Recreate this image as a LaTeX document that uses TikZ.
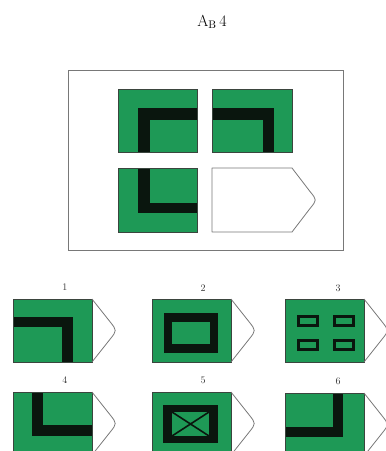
\documentclass[tikz,border=0pt]{standalone}
\usepackage{xcolor}
\definecolor{tilegreen}{RGB}{30,153,86}
\definecolor{barblack}{RGB}{10,22,14}
\definecolor{edgegray}{RGB}{120,120,120}
\tikzset{
  tile/.style={fill=tilegreen, draw=barblack!80, line width=0.5pt},
  bar/.style={fill=barblack, draw=none},
  outline/.style={draw=edgegray, line width=0.8pt, line join=round},
  frame/.style={draw=edgegray, line width=1pt},
  lbl/.style={font=\fontsize{10}{12}\selectfont, text=black!80}
}
% tip outline for an option tile whose top-left corner is (#1,#2)
\newcommand{\tipout}[2]{%
  \draw[outline] (#1+79,#2) -- (#1+97,#2+22.7) .. controls (#1+104,#2+31.5) .. (#1+97,#2+40.3) -- (#1+79,#2+63);}
\begin{document}
\begin{tikzpicture}[x=1pt,y=-1pt]
\useasboundingbox (0,0) rectangle (386,451);
\clip (0,0) rectangle (386,451);
% title
\node (title) at (212,22) {\fontsize{16}{19}\selectfont A$_{\mathrm{B}}$\,4};
% frame
\draw[frame] (68,70) rectangle (343,250);
% question tiles
\fill[tile] (118,89) rectangle (197,152);
\fill[bar] (138,108) rectangle (150,152);
\fill[bar] (138,108) rectangle (197,120);
\draw[barblack!80, line width=0.5pt] (118,89) rectangle (197,152);

\fill[tile] (212,89) rectangle (292,152);
\fill[bar] (212,108) rectangle (274,120);
\fill[bar] (263,108) rectangle (274,152);
\draw[barblack!80, line width=0.5pt] (212,89) rectangle (292,152);

\fill[tile] (118,168) rectangle (197,232);
\fill[bar] (138,168) rectangle (150,213);
\fill[bar] (138,203) rectangle (197,213);
\draw[barblack!80, line width=0.5pt] (118,168) rectangle (197,232);

\draw[outline] (212,168) -- (292,168) -- (310,191.5) .. controls (317,200) .. (310,208.5) -- (292,232) -- (212,232) -- cycle;

% option 1
\node[lbl] (l1) at (65,287) {1};
\fill[tile] (13,299) rectangle (92,362);
\fill[bar] (13,317) rectangle (73,327);
\fill[bar] (62,317) rectangle (73,362);
\draw[barblack!80, line width=0.5pt] (13,299) rectangle (92,362);
\tipout{13}{299}

% option 2
\node[lbl] (l2) at (203,288) {2};
\fill[tile] (152,299) rectangle (231,362);
\fill[bar] (164,313) rectangle (218,353);
\fill[tilegreen] (172,322) rectangle (210,344);
\draw[barblack!80, line width=0.5pt] (152,299) rectangle (231,362);
\tipout{152}{299}

% option 3
\node[lbl] (l3) at (338,288) {3};
\fill[tile] (285,299) rectangle (364,362);
\foreach \xx in {297,333}{
  \foreach \yy in {315,339}{
    \draw[barblack, line width=3pt] (\xx+1.5,\yy+1.5) rectangle (\xx+20.5,\yy+10.5);
  }
}
\draw[barblack!80, line width=0.5pt] (285,299) rectangle (364,362);
\tipout{285}{299}

% option 4
\node[lbl] (l4) at (65,380) {4};
\fill[tile] (13,392) rectangle (92,455);
\fill[bar] (32,392) rectangle (43,436);
\fill[bar] (32,425) rectangle (92,436);
\draw[barblack!80, line width=0.5pt] (13,392) rectangle (92,455);
\tipout{13}{392}

% option 5
\node[lbl] (l5) at (203,380) {5};
\fill[tile] (152,392) rectangle (231,455);
\fill[bar] (163,405) rectangle (218,443);
\fill[tilegreen] (172,412) rectangle (209,436);
\draw[barblack, line width=1.6pt] (172,412) -- (209,436) (172,436) -- (209,412);
\draw[barblack!80, line width=0.5pt] (152,392) rectangle (231,455);
\tipout{152}{392}

% option 6
\node[lbl] (l6) at (338,381) {6};
\fill[tile] (285,393) rectangle (364,456);
\fill[bar] (333,393) rectangle (343,437);
\fill[bar] (285,427) rectangle (343,437);
\draw[barblack!80, line width=0.5pt] (285,393) rectangle (364,456);
\tipout{285}{393}
\end{tikzpicture}
\end{document}
